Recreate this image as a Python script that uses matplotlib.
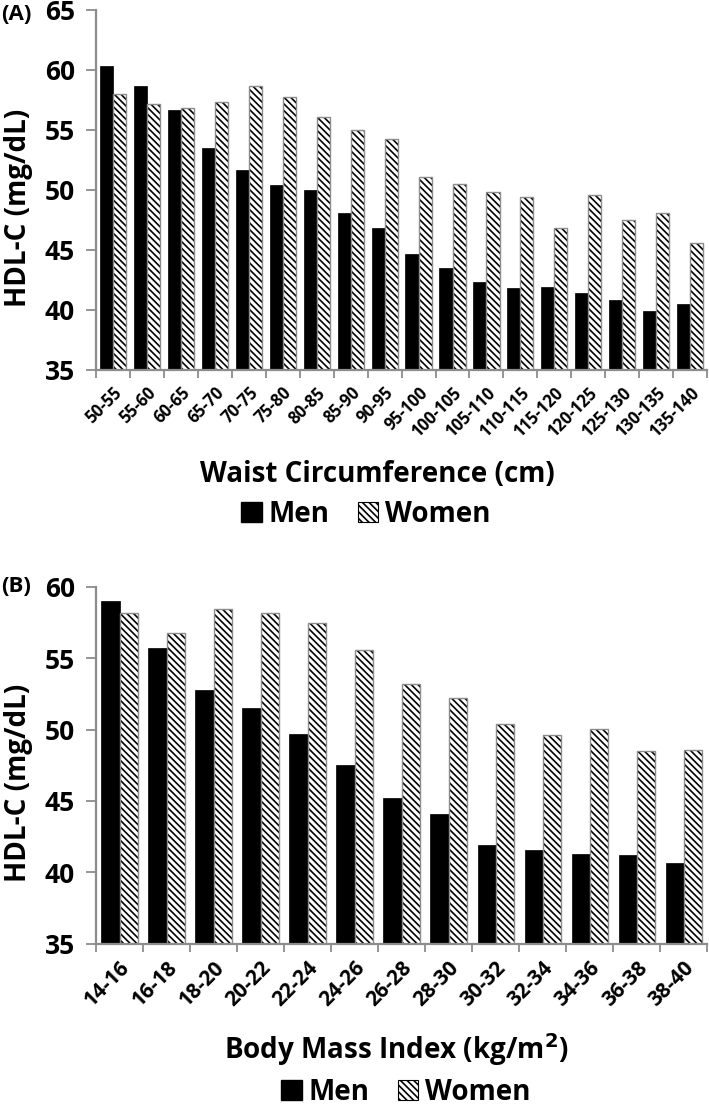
import numpy as np
import matplotlib
matplotlib.use("Agg")
import matplotlib.pyplot as plt
from matplotlib.patches import Patch

plt.rcParams['font.family'] = ['Open Sans', 'DejaVu Sans']
plt.rcParams['font.weight'] = 'bold'
plt.rcParams['hatch.linewidth'] = 1.2

# Panel A: waist circumference
waist_labels = ['50-55', '55-60', '60-65', '65-70', '70-75', '75-80', '80-85', '85-90', '90-95',
                '95-100', '100-105', '105-110', '110-115', '115-120', '120-125', '125-130',
                '130-135', '135-140']
waist_men = [60.3, 58.7, 56.7, 53.5, 51.7, 50.4, 50.0, 48.05, 46.8, 44.65, 43.5, 42.3, 41.8,
             41.9, 41.4, 40.85, 39.95, 40.5]
waist_women = [58.0, 57.2, 56.8, 57.3, 58.7, 57.75, 56.1, 55.0, 54.25, 51.1, 50.5, 49.8, 49.4,
               46.8, 49.55, 47.5, 48.05, 45.6]

# Panel B: body mass index
bmi_labels = ['14-16', '16-18', '18-20', '20-22', '22-24', '24-26', '26-28', '28-30', '30-32',
              '32-34', '34-36', '36-38', '38-40']
bmi_men = [59.0, 55.7, 52.75, 51.5, 49.7, 47.55, 45.2, 44.1, 41.9, 41.55, 41.3, 41.2, 40.65]
bmi_women = [58.2, 56.8, 58.45, 58.2, 57.5, 55.55, 53.2, 52.2, 50.4, 49.65, 50.05, 48.5, 48.6]

W, H = 709, 1109
fig = plt.figure(figsize=(W / 100, H / 100), dpi=100)
axA = fig.add_axes([0.1354, 0.6664, 0.862, 0.3246])
axB = fig.add_axes([0.1354, 0.1492, 0.862, 0.3215])

GRAY = '#8c8c8c'
HATCH = '\\\\\\\\\\'


def draw(ax, labels, men, women, ylim, tick_size):
    x = np.arange(len(labels))
    w = 0.385
    base = ylim[0]
    ax.bar(x - w / 2, np.array(men) - base, w, bottom=base, color='black',
           edgecolor='black', linewidth=0.5)
    # hatched fill, then gray outline on top
    ax.bar(x + w / 2, np.array(women) - base, w, bottom=base, color='white',
           edgecolor='black', hatch=HATCH, linewidth=0)
    ax.bar(x + w / 2, np.array(women) - base, w, bottom=base, fill=False,
           edgecolor=GRAY, linewidth=1.0)
    ax.set_xlim(-0.5, len(labels) - 0.5)
    ax.set_ylim(*ylim)
    ax.set_yticks(np.arange(ylim[0], ylim[1] + 1, 5))
    ax.tick_params(axis='y', labelsize=19, length=7, color=GRAY, width=1.3, pad=8)
    # ticks between categories, labels at centres
    ax.set_xticks(np.arange(-0.5, len(labels), 1.0))
    ax.set_xticklabels([])
    ax.set_xticks(x, minor=True)
    ax.set_xticklabels(labels, minor=True, rotation=45, ha='right', rotation_mode='anchor',
                       fontsize=tick_size, fontweight='bold')
    ax.tick_params(axis='x', which='major', length=6, color=GRAY, width=1.3)
    ax.tick_params(axis='x', which='minor', length=0, pad=10)
    for s in ['top', 'right']:
        ax.spines[s].set_visible(False)
    for s in ['left', 'bottom']:
        ax.spines[s].set_color(GRAY)
        ax.spines[s].set_linewidth(1.6)
    ax.set_ylabel('HDL-C (mg/dL)', fontsize=20, fontweight='bold')
    ax.yaxis.set_label_coords(-0.103, 0.45)


draw(axA, waist_labels, waist_men, waist_women, (35, 65), 12)
draw(axB, bmi_labels, bmi_men, bmi_women, (35, 60), 15)

handles = [Patch(facecolor='black', edgecolor='black', label='Men'),
           Patch(facecolor='white', edgecolor='black', hatch=HATCH, linewidth=0.8, label='Women')]

fig.text(377 / W, 1 - 474 / H, 'Waist Circumference (cm)', fontsize=20, fontweight='bold',
         ha='center', va='center')
fig.text(396 / W, 1 - 1050 / H, 'Body Mass Index (kg/m$^\\mathbf{2}$)', fontsize=20,
         fontweight='bold', ha='center', va='center')

for x0, y0 in [(366, 514), (406, 1092)]:
    fig.legend(handles=handles, loc='center', bbox_to_anchor=(x0 / W, 1 - y0 / H), ncol=2,
               frameon=False, prop={'size': 20, 'weight': 'bold'}, handlelength=0.75,
               handleheight=0.75, handletextpad=0.25, columnspacing=1.0, borderpad=0)

fig.text(0.002, 1 - 14 / H, '(A)', fontsize=16, fontweight='bold', va='center')
fig.text(0.002, 1 - 586 / H, '(B)', fontsize=16, fontweight='bold', va='center')

fig.savefig('out.png', dpi=100)
